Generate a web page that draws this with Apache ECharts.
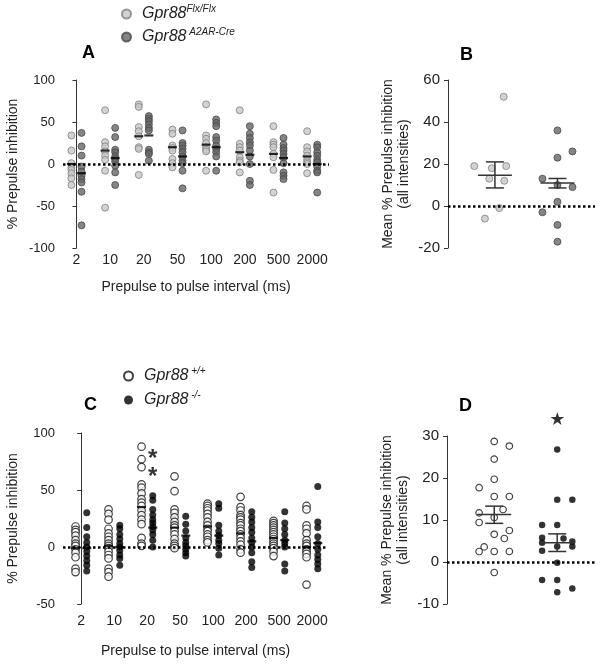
<!DOCTYPE html>
<html>
<head>
<meta charset="utf-8">
<script src="https://cdn.jsdelivr.net/npm/echarts@6/dist/echarts.min.js"></script>
<style>
  html, body { margin: 0; background: #fff; }
  #chart { width: 604px; height: 667px; }
</style>
</head>
<body>
<div id="chart"></div>
<script>
// x categories shared by A and C
const INTERVALS = ['2', '10', '20', '50', '100', '200', '500', '2000'];

// Panel A: % PPI per interval, one row per interval
const A_FLX = [
    [34, 16, 1, -4, -7, -11, -17, -25],
    [64, 26, 21, 15, 10, 5, -8, -52],
    [71, 68, 44, 39, 33, 20, 18, -13],
    [41, 36, 22, 19, 16, 6, 1, -4],
    [71, 34, 30, 25, 20, 17, 15, -8],
    [64, 24, 20, 16, 8, 4, 2, -10],
    [45, 26, 23, 20, 12, 8, -7, -34],
    [39, 20, 15, 10, 5, 2, 0, -11]
];
const A_CRE = [
    [37, 21, 10, -3, -9, -14, -18, -22, -33, -73],
    [43, 32, 17, 14, 9, 6, 3, -2, -10, -25],
    [57, 54, 51, 47, 43, 40, 17, 14, 12, 4],
    [40, 25, 22, 18, 14, 9, 4, 1, -8, -29],
    [53, 49, 45, 32, 28, 22, 18, 14, 9, -8],
    [45, 36, 31, 26, 22, 16, 9, 0, -20, -25],
    [31, 23, 19, 16, 12, 8, 1, -10, -14, -18],
    [23, 20, 14, 10, 5, 2, -3, -8, -10, -34]
];
const A_FLX_MEAN = [0, 16, 33, 20, 23, 14, 12, 9];
const A_CRE_MEAN = [-11, 7, 34, 9, 20, 11, 7, 0];

// Panel B: mean PPI (all intensities), x jitter in group units
const B_FLX = [52, 19, 18, 19, 13, 12, -1, -6];
const B_FLX_JIT = [0.14, -0.33, -0.05, 0.18, -0.09, 0.15, 0.07, -0.16];
const B_CRE = [36, 23, 26, 13, 10, 9, 2, -3, -9, -17];
const B_CRE_JIT = [0, 0, 0.24, -0.24, 0, 0.24, 0, -0.24, 0, 0];
const B_STATS = [[1, 14.6, 8.6, 21], [2, 11, 8.6, 13.1]]; // group, mean, low, high

// Panel C
const C_WT = [
    [18, 15, 13, 10, 6, 3, 1, -2, -5, -9, -19, -22],
    [33, 29, 24, 16, 12, 9, 6, 3, 1, -1, -4, -7, -10, -19, -22, -26],
    [88, 77, 70, 55, 52, 47, 42, 39, 36, 32, 28, 24, 20, 8, 3, 1],
    [62, 49, 33, 30, 26, 22, 19, 17, 14, 11, 7, 3, 1, -1],
    [38, 36, 34, 32, 29, 26, 22, 19, 16, 14, 11, 9, 6, 4],
    [44, 35, 32, 28, 26, 24, 21, 19, 16, 14, 11, 8, 5, 2, -2, -5],
    [23, 21, 19, 17, 15, 13, 11, 9, 7, 5, 3, 1, -1, -4, -8],
    [36, 33, 19, 16, 12, 6, 3, 1, -2, -4, -6, -9, -33]
];
const C_KO = [
    [30, 17, 9, 4, 0, -4, -8, -12, -16, -21],
    [19, 16, 11, 7, 3, 0, -3, -7, -10, -16],
    [45, 41, 33, 28, 24, 21, 18, 15, 11, 6, 0],
    [27, 20, 14, 8, 4, 1, -2, -5, -8],
    [38, 34, 19, 14, 10, 6, 3, -1, -7],
    [31, 26, 22, 17, 13, 8, 4, 0, -5, -13, -18],
    [31, 21, 16, 11, 6, 3, 0, -15, -21],
    [53, 22, 17, 9, 3, -2, -7, -11, -15, -19]
];
const C_WT_MEAN = [-1, 1, 35, 17, 18, 12, 8, 0];
const C_KO_MEAN = [-1, 0, 17, 10, 10, 5, 6, 3.5];
const C_SIG = [[2, 80], [2, 65]]; // asterisks at interval 20

// Panel D
const D_WT = [28.7, 27.6, 24.5, 19.7, 17.7, 15.6, 15.6, 12.5, 11.7, 10.6, 9.4, 7.5, 6.6, 5.6, 3.6, 2.5, 2.5, 2.5, -2.5];
const D_WT_JIT = [0, 0.24, 0, 0, -0.24, 0, 0.24, 0.14, -0.24, 0, -0.24, 0.24, 0, 0.16, -0.16, -0.24, 0, 0.24, 0];
const D_KO = [26.8, 14.8, 14.8, 8.8, 8.8, 5.8, 5.6, 4.9, 4.6, 3.7, 3.7, 2.7, -0.2, -4.3, -4.3, -6.3, -7.2];
const D_KO_JIT = [0, 0, 0.24, -0.24, 0, -0.24, 0.1, 0.24, -0.24, 0.24, 0, -0.24, 0, -0.24, 0, 0.24, 0];
const D_STATS = [[1, 11.3, 9.2, 13.3], [2, 4.6, 2.5, 6.7]];
const D_SIG = [[2, 33.7]];

const FONT = 'Liberation Sans';
const TXT = '#222';
const LIGHT = { color: '#c8c8c8', borderColor: '#808080', borderWidth: 1 };
const DARK = { color: '#666666', borderColor: '#4a4a4a', borderWidth: 1 };

const cols = (rows, off) => rows.flatMap((vals, i) => vals.map(v => [i + off, v]));
const jit = (vals, jits, g) => vals.map((v, i) => [g + jits[i], v]);
const means = (arr, off) => arr.map((m, i) => [i + off, m]);

const zeroLine = {
    silent: true, symbol: 'none', label: { show: false },
    lineStyle: { color: '#000', width: 2.5, type: [2.5, 2.5] },
    data: [{ yAxis: 0 }]
};

function yAxis(grid, min, max, step, fs, name, gap) {
    return {
        gridIndex: grid, type: 'value', min, max, interval: step,
        name, nameLocation: 'middle', nameGap: gap,
        nameTextStyle: { fontFamily: FONT, fontSize: 14, color: TXT, lineHeight: 16 },
        axisLine: { show: true, lineStyle: { color: '#333', width: 1 } },
        axisTick: { show: true, length: 4, lineStyle: { color: '#333' } },
        axisLabel: { fontFamily: FONT, fontSize: fs, color: TXT, margin: 8 },
        splitLine: { show: false }
    };
}

function xAxis(grid, min, max, withLabels, gap) {
    const ax = {
        gridIndex: grid, type: 'value', min, max,
        axisLine: { show: false }, axisTick: { show: false }, splitLine: { show: false },
        axisLabel: { show: false }
    };
    if (withLabels) {
        ax.name = 'Prepulse to pulse interval (ms)';
        ax.nameLocation = 'middle';
        ax.nameGap = gap;
        ax.nameTextStyle = { fontFamily: FONT, fontSize: 14, color: TXT };
        ax.axisLabel = {
            show: true, customValues: INTERVALS.map((_, i) => i),
            formatter: v => INTERVALS[Math.round(v)],
            fontFamily: FONT, fontSize: 14, color: TXT, margin: withLabels
        };
    }
    return ax;
}

function meanBars(name, data, x, y) {
    return {
        name, type: 'scatter', xAxisIndex: x, yAxisIndex: y, data,
        symbol: 'rect', symbolSize: [9, 2.2], itemStyle: { color: '#000' }, z: 5, silent: true
    };
}

function errBars(data, x, y) {
    return {
        type: 'custom', xAxisIndex: x, yAxisIndex: y, data, z: 6, silent: true,
        renderItem(params, api) {
            const g = api.value(0);
            const pm = api.coord([g, api.value(1)]);
            const lo = api.coord([g, api.value(2)]);
            const hi = api.coord([g, api.value(3)]);
            const st = { stroke: '#333', lineWidth: 1.5 };
            const ln = (x1, y1, x2, y2) => ({ type: 'line', shape: { x1, y1, x2, y2 }, style: st });
            return {
                type: 'group', children: [
                    ln(pm[0] - 17, pm[1], pm[0] + 17, pm[1]),
                    ln(lo[0], lo[1], hi[0], hi[1]),
                    ln(lo[0] - 9, lo[1], lo[0] + 9, lo[1]),
                    ln(hi[0] - 9, hi[1], hi[0] + 9, hi[1])
                ]
            };
        }
    };
}

function sigMarks(data, x, y, text, fs, family, dy) {
    return {
        type: 'scatter', xAxisIndex: x, yAxisIndex: y, data, clip: false, silent: true,
        symbolSize: 1, itemStyle: { color: 'transparent' },
        label: {
            show: true, position: 'inside', formatter: text, offset: [0, dy],
            fontFamily: family, fontSize: fs, fontWeight: 'bold', color: '#000'
        }
    };
}

const legendRich = {
    g: { fontFamily: FONT, fontSize: 16, fontStyle: 'italic', color: TXT, lineHeight: 20, padding: [0, 0, 0, 6] },
    s: { fontFamily: FONT, fontSize: 10, fontStyle: 'italic', color: TXT, verticalAlign: 'top', lineHeight: 20 }
};
const legendFmt = name => {
    const [g, s] = name.split('|');
    return `{g|${g}}{s|${s}}`;
};

const NAME_FLX = 'Gpr88|Flx/Flx';
const NAME_CRE = 'Gpr88| A2AR-Cre';
const NAME_WT = 'Gpr88| +/+';
const NAME_KO = 'Gpr88| -/-';

const chart = echarts.init(document.getElementById('chart'));
chart.setOption({
    backgroundColor: '#fff',
    animation: false,
    title: [
        { text: 'A', left: 77, top: 39 },
        { text: 'B', left: 455, top: 41 },
        { text: 'C', left: 79, top: 391 },
        { text: 'D', left: 454, top: 392 }
    ].map(t => ({ ...t, textStyle: { fontFamily: FONT, fontSize: 18, fontWeight: 'bold', color: '#000' } })),
    legend: [
        {
            data: [NAME_FLX, NAME_CRE], orient: 'vertical', left: 116, top: -1,
            itemWidth: 9, itemHeight: 9, itemGap: 5, icon: 'circle',
            formatter: legendFmt, textStyle: { rich: legendRich }, selectedMode: false
        },
        {
            data: [NAME_WT, NAME_KO], orient: 'vertical', left: 118, top: 361,
            itemWidth: 9, itemHeight: 9, itemGap: 6, icon: 'circle',
            formatter: legendFmt, textStyle: { rich: legendRich }, selectedMode: false
        }
    ],
    grid: [
        { left: 63, top: 80, width: 266, height: 168 },
        { left: 448, top: 80, width: 147, height: 168 },
        { left: 63, top: 433, width: 265, height: 171 },
        { left: 447, top: 436, width: 148, height: 168 }
    ],
    xAxis: [
        xAxis(0, -0.4, 7.5, 5, 32),
        xAxis(1, 0.25, 2.6, 0),
        xAxis(2, -0.55, 7.48, 10, 40),
        xAxis(3, 0.25, 2.6, 0)
    ],
    yAxis: [
        yAxis(0, -100, 100, 50, 13, '% Prepulse inhibition', 42),
        yAxis(1, -20, 60, 20, 15, 'Mean % Prepulse inhibition\n(all intensities)', 36),
        yAxis(2, -50, 100, 50, 13, '% Prepulse inhibition', 42),
        yAxis(3, -10, 30, 10, 15, 'Mean % Prepulse inhibition\n(all intensities)', 36)
    ],
    series: [
        // A
        {
            name: NAME_FLX, type: 'scatter', xAxisIndex: 0, yAxisIndex: 0,
            data: cols(A_FLX, -0.15), symbolSize: 7, itemStyle: LIGHT, markLine: zeroLine
        },
        {
            name: NAME_CRE, type: 'scatter', xAxisIndex: 0, yAxisIndex: 0,
            data: cols(A_CRE, 0.15), symbolSize: 7, itemStyle: DARK
        },
        meanBars('', means(A_FLX_MEAN, -0.15), 0, 0),
        meanBars('', means(A_CRE_MEAN, 0.15), 0, 0),
        // B
        {
            type: 'scatter', xAxisIndex: 1, yAxisIndex: 1,
            data: jit(B_FLX, B_FLX_JIT, 1), symbolSize: 7, itemStyle: LIGHT, markLine: zeroLine
        },
        {
            type: 'scatter', xAxisIndex: 1, yAxisIndex: 1,
            data: jit(B_CRE, B_CRE_JIT, 2), symbolSize: 7, itemStyle: DARK
        },
        errBars(B_STATS, 1, 1),
        // C
        {
            name: NAME_WT, type: 'scatter', xAxisIndex: 2, yAxisIndex: 2,
            data: cols(C_WT, -0.17), symbolSize: 7.5,
            itemStyle: { color: '#fff', borderColor: '#111', borderWidth: 1.2 }, markLine: zeroLine
        },
        {
            name: NAME_KO, type: 'scatter', xAxisIndex: 2, yAxisIndex: 2,
            data: cols(C_KO, 0.17), symbolSize: 7, itemStyle: { color: '#000' }
        },
        meanBars('', means(C_WT_MEAN, -0.17), 2, 2),
        meanBars('', means(C_KO_MEAN, 0.17), 2, 2),
        sigMarks(C_SIG.map(([i, v]) => [i + 0.17, v]), 2, 2, '*', 24, FONT, 4),
        // D
        {
            type: 'scatter', xAxisIndex: 3, yAxisIndex: 3,
            data: jit(D_WT, D_WT_JIT, 1), symbolSize: 6.5,
            itemStyle: { color: '#fff', borderColor: '#111', borderWidth: 1.2 }, markLine: zeroLine
        },
        {
            type: 'scatter', xAxisIndex: 3, yAxisIndex: 3,
            data: jit(D_KO, D_KO_JIT, 2), symbolSize: 6.5, itemStyle: { color: '#000' }
        },
        errBars(D_STATS, 3, 3),
        sigMarks(D_SIG, 3, 3, '★', 18, 'DejaVu Sans', 0)
    ]
});
</script>
</body>
</html>
